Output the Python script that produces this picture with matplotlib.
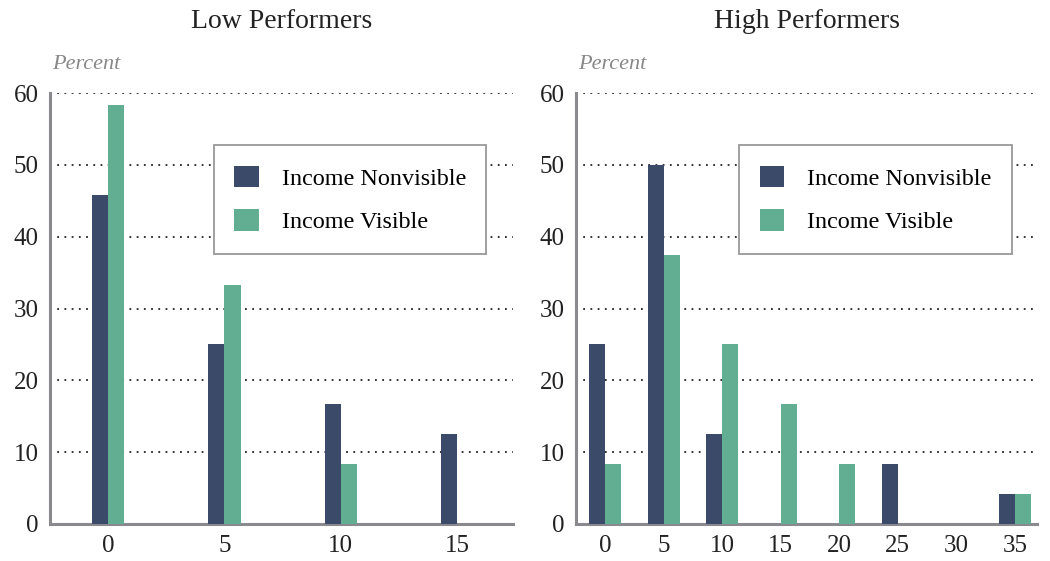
import matplotlib.pyplot as plt
import numpy as np

plt.rcParams['font.family'] = ['Liberation Serif', 'DejaVu Serif']

# данні
low_bins = [0, 5, 10, 15]
low_nonvisible = [45.8, 25.0, 16.7, 12.5]
low_visible = [58.3, 33.3, 8.3, 0.0]

high_bins = [0, 5, 10, 15, 20, 25, 30, 35]
high_nonvisible = [25.0, 50.0, 12.5, 0.0, 0.0, 8.3, 0.0, 4.2]
high_visible = [8.3, 37.5, 25.0, 16.7, 8.3, 0.0, 0.0, 4.2]

titles = ["Low Performers", "High Performers"]
series_names = ["Income Nonvisible", "Income Visible"]
y_ticks = [0, 10, 20, 30, 40, 50, 60]

navy = '#3b4a68'
teal = '#62ae93'
spine_col = '#8a8a8e'

fig = plt.figure(figsize=(10.5, 5.61), dpi=100)
ax1 = fig.add_axes([0.0476, 0.066, 0.441, 0.768])
ax2 = fig.add_axes([0.5486, 0.066, 0.439, 0.768])

panels = [
    (ax1, low_bins, low_nonvisible, low_visible, 0.69, (-2.5, 17.4)),
    (ax2, high_bins, high_nonvisible, high_visible, 1.37, (-2.5, 36.9)),
]

for i, (ax, bins, nv, vis, w, xl) in enumerate(panels):
    x = np.array(bins, dtype=float)
    ax.bar(x - w / 2, nv, width=w, color=navy, label=series_names[0], zorder=3)
    ax.bar(x + w / 2, vis, width=w, color=teal, label=series_names[1], zorder=3)
    ax.set_xlim(*xl)
    ax.set_ylim(0, 60)
    ax.set_xticks(bins)
    ax.set_yticks(y_ticks)
    for t in y_ticks[1:]:
        ax.axhline(t, color='#222222', lw=1.3, ls=(0, (1, 3)), zorder=1)
    for s in ['top', 'right']:
        ax.spines[s].set_visible(False)
    for s in ['left', 'bottom']:
        ax.spines[s].set_color(spine_col)
        ax.spines[s].set_linewidth(2.2)
    ax.tick_params(length=0, labelsize=18, colors='#222222')
    ax.tick_params(axis='y', pad=8)
    ax.tick_params(axis='x', pad=8)
    ax.set_title(titles[i], fontsize=20, color='#222222', pad=47)
    ax.text(0.004, 1.045, "Percent", transform=ax.transAxes, fontsize=16,
            style='italic', color='#888888', ha='left', va='bottom')
    leg = ax.legend(loc='upper left', bbox_to_anchor=(0.354, 0.879), borderaxespad=0,
                    fontsize=17.4, frameon=True, fancybox=False, handlelength=1.0,
                    handleheight=1.0, handletextpad=0.95, borderpad=0.85,
                    labelspacing=0.8, edgecolor='#999999')
    leg.get_frame().set_linewidth(1.3)
    leg.get_frame().set_alpha(1)

fig.savefig('out.png', dpi=100)
